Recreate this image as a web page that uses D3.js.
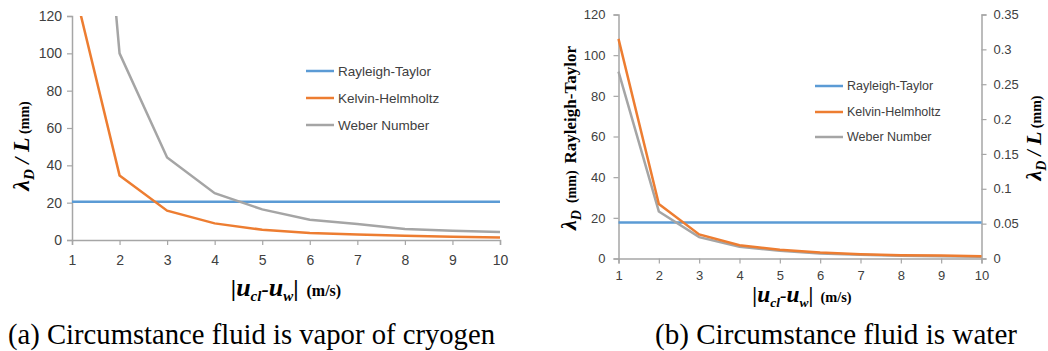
<!DOCTYPE html>
<html><head><meta charset="utf-8">
<script src="https://cdn.jsdelivr.net/npm/d3@7"></script>
<style>body{margin:0;background:#fff}svg{display:block}</style>
</head><body>
<svg id="c" width="1048" height="351"></svg>
<script>
// ---- data ----
const xVals = [1,2,3,4,5,6,7,8,9,10];
const seriesNames = ["Rayleigh-Taylor","Kelvin-Helmholtz","Weber Number"];
// (a) vapor of cryogen, lambda_D / L (mm)
const aRT = 20.5;
const aKH = [140, 34.6, 15.7, 8.9, 5.5, 3.7, 3.0, 2.3, 1.8, 1.3];
const aWeber = [386, 100, 44.2, 25.1, 16.4, 10.9, 8.6, 5.9, 5.0, 4.3];
const aYTicks = [0,20,40,60,80,100,120];
// (b) water
const bRT = 17.7; // left axis, mm
const bKH = [0.315, 0.078, 0.0345, 0.019, 0.0125, 0.0086, 0.0062, 0.0048, 0.0042, 0.0034];
const bWeber = [0.268, 0.0675, 0.0306, 0.0168, 0.011, 0.0072, 0.0053, 0.0038, 0.0033, 0.0024];
const bYTicks = [0,20,40,60,80,100,120];
const bY2Ticks = [0,0.05,0.1,0.15,0.2,0.25,0.3,0.35];
const captions = ["(a) Circumstance fluid is vapor of cryogen","(b) Circumstance fluid is water"];

const colors = {rt:"#5b9bd5", kh:"#ed7d31", we:"#a5a5a5"};
const axisCol = "#a6a6a6", tickTxt = "#404040";
const svg = d3.select("#c");

function styleAxis(g, fs){
  g.select(".domain").attr("stroke", axisCol).attr("stroke-width",1.5);
  g.selectAll(".tick line").attr("stroke", axisCol).attr("stroke-width",1.2);
  g.selectAll(".tick text").attr("fill", tickTxt).attr("font-family","Liberation Sans, Arial, sans-serif").attr("font-size", fs);
}

function rich(parent, x, y, rot, segs, anchor){
  const t = parent.append("text").attr("transform", `translate(${x},${y}) rotate(${rot})`)
    .attr("text-anchor", anchor||"middle").attr("font-family","Liberation Serif, Times New Roman, serif")
    .attr("font-weight","bold").attr("fill","#000");
  segs.forEach(s=>{
    const ts = t.append("tspan").text(s.t).attr("font-size", s.fs);
    if(s.it) ts.attr("font-style","italic");
    if(s.dy) ts.attr("dy", s.dy);
  });
  return t;
}

function xLabel(parent, x, y, k){
  k = k||1;
  rich(parent, x, y, 0, [
    {t:"|", fs:24*k},
    {t:"u", fs:26*k, it:1},
    {t:"cl", fs:15*k, it:1, dy:5*k},
    {t:"-", fs:22*k, it:1, dy:-5*k},
    {t:"u", fs:26*k, it:1},
    {t:"w", fs:15*k, it:1, dy:5*k},
    {t:"|", fs:24*k, dy:-5*k},
    {t:"\u00a0\u00a0(m/s)", fs:16*k}
  ]);
}

function legend(parent, x0, x1, ys, fs){
  const cols=[colors.rt, colors.kh, colors.we];
  seriesNames.forEach((n,i)=>{
    parent.append("line").attr("x1",x0).attr("x2",x1).attr("y1",ys[i]).attr("y2",ys[i])
      .attr("stroke",cols[i]).attr("stroke-width",2.5);
    parent.append("text").attr("x",x1+4).attr("y",ys[i]).attr("dy","0.35em")
      .attr("font-family","Liberation Sans, Arial, sans-serif").attr("font-size",fs)
      .attr("fill","#404040").text(n);
  });
}

// ---------- Chart (a) ----------
{
  const x = d3.scaleLinear().domain([1,10]).range([72,500]);
  const y = d3.scaleLinear().domain([0,120]).range([240,16]);
  svg.append("defs").append("clipPath").attr("id","clipA").append("rect")
    .attr("x",72).attr("y",16).attr("width",430).attr("height",226);
  const gx = svg.append("g").attr("transform","translate(0,240)")
    .call(d3.axisBottom(x).tickValues(xVals).tickSize(5).tickPadding(10).tickFormat(d3.format("d")));
  styleAxis(gx,14);
  const gy = svg.append("g").attr("transform","translate(72,0)")
    .call(d3.axisLeft(y).tickValues(aYTicks).tickSize(5).tickPadding(5));
  styleAxis(gy,14);
  const line = d3.line().x((d,i)=>x(xVals[i])).y(d=>y(d));
  const g = svg.append("g").attr("clip-path","url(#clipA)");
  g.append("path").attr("d", line(xVals.map(()=>aRT))).attr("fill","none").attr("stroke",colors.rt).attr("stroke-width",2.5);
  g.append("path").attr("d", line(aWeber)).attr("fill","none").attr("stroke",colors.we).attr("stroke-width",2.5);
  g.append("path").attr("d", line(aKH)).attr("fill","none").attr("stroke",colors.kh).attr("stroke-width",2.5);
  legend(svg, 306, 334, [71,98,125], 13.5);
  rich(svg, 29, 146, -90, [
    {t:"\u03bb", fs:24, it:1},
    {t:"D", fs:15, it:1, dy:5},
    {t:" / ", fs:22, it:1, dy:-5},
    {t:"L", fs:24, it:1},
    {t:" (mm)", fs:14}
  ]);
  xLabel(svg, 286, 296);
}

// ---------- Chart (b) ----------
{
  const x = d3.scaleLinear().domain([1,10]).range([618.5,981.5]);
  const y = d3.scaleLinear().domain([0,120]).range([258.5,14.5]);
  const y2 = d3.scaleLinear().domain([0,0.35]).range([258.5,14.5]);
  const gx = svg.append("g").attr("transform","translate(0,258.5)")
    .call(d3.axisBottom(x).tickValues(xVals).tickSize(5).tickPadding(7).tickFormat(d3.format("d")));
  styleAxis(gx,13);
  const gy = svg.append("g").attr("transform","translate(618.5,0)")
    .call(d3.axisLeft(y).tickValues(bYTicks).tickSize(5).tickPadding(8));
  styleAxis(gy,13);
  const gy2 = svg.append("g").attr("transform","translate(981.5,0)")
    .call(d3.axisRight(y2).tickValues(bY2Ticks).tickSize(5).tickPadding(7).tickFormat(d=>String(+d.toFixed(2))));
  styleAxis(gy2,13);
  const l1 = d3.line().x((d,i)=>x(xVals[i])).y(d=>y(d));
  const l2 = d3.line().x((d,i)=>x(xVals[i])).y(d=>y2(d));
  svg.append("path").attr("d", l1(xVals.map(()=>bRT))).attr("fill","none").attr("stroke",colors.rt).attr("stroke-width",2.5);
  svg.append("path").attr("d", l2(bWeber)).attr("fill","none").attr("stroke",colors.we).attr("stroke-width",2.5);
  svg.append("path").attr("d", l2(bKH)).attr("fill","none").attr("stroke",colors.kh).attr("stroke-width",2.5);
  legend(svg, 815, 843, [86,112,137], 12.5);
  rich(svg, 576, 138, -90, [
    {t:"\u03bb", fs:22, it:1},
    {t:"D", fs:14, it:1, dy:5},
    {t:"\u00a0\u00a0(mm)\u00a0\u00a0", fs:14, dy:-5},
    {t:"Rayleigh-Taylor", fs:17}
  ]);
  rich(svg, 1041, 138, -90, [
    {t:"\u03bb", fs:22, it:1},
    {t:"D", fs:14, it:1, dy:5},
    {t:" / ", fs:20, it:1, dy:-5},
    {t:"L", fs:22, it:1},
    {t:" (mm)", fs:14}
  ]);
  xLabel(svg, 802, 302, 0.9);
}

// captions
svg.append("text").attr("x",8).attr("y",344).attr("font-family","Liberation Serif, Times New Roman, serif")
  .attr("font-size",29).attr("textLength",487).attr("lengthAdjust","spacingAndGlyphs").text(captions[0]);
svg.append("text").attr("x",655).attr("y",344).attr("font-family","Liberation Serif, Times New Roman, serif")
  .attr("font-size",29).attr("textLength",362).attr("lengthAdjust","spacingAndGlyphs").text(captions[1]);
</script>
</body></html>
